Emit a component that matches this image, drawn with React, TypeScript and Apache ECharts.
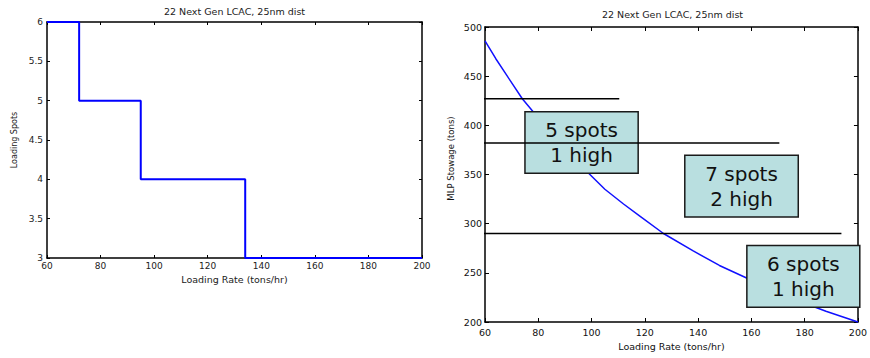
import React, { useEffect, useRef } from "react";
import * as echarts from "echarts";

// Left chart: loading spots step function
const stepRates = [60, 72, 95, 134, 200];
const stepSpots = [6, 5, 4, 3, 3];

// Right chart: MLP stowage curve
const curveRates = [60, 64, 68, 74, 78, 85, 92, 99, 105, 112, 118, 127, 138, 148, 158, 170, 180, 188, 200];
const curveStowage = [486, 468, 451.5, 427, 414, 391, 371, 351, 335, 320, 308, 290, 272.5, 257.5, 245, 230, 219, 211, 200];

// Threshold lines (right chart)
const lineLevels = [427, 382, 290];
const lineStarts = [57.5, 57.5, 57.5];
const lineEnds = [110.4, 170.5, 193.8];

// Annotation boxes (right chart)
const boxX0 = [75, 135, 158.3];
const boxX1 = [117.5, 177.6, 200.7];
const boxY0 = [413.9, 369.5, 277.7];
const boxY1 = [351.2, 306.9, 215];
const boxLines = [
  ["5 spots", "1 high"],
  ["7 spots", "2 high"],
  ["6 spots", "1 high"],
];

const titleText = "22 Next Gen LCAC, 25nm dist";
const FONT = "DejaVu Sans";

export default function App() {
  const ref = useRef<HTMLDivElement>(null);
  useEffect(() => {
    if (!ref.current) return;
    const chart = echarts.init(ref.current, null, { renderer: "svg" });

    const axisLine = { show: true, lineStyle: { color: "#000", width: 1.5 } };
    const xBase = (grid: number, tickLen: number) => ({
      type: "value",
      gridIndex: grid,
      min: 60,
      max: 200,
      interval: 20,
      axisLine,
      axisTick: { show: true, inside: true, length: tickLen, lineStyle: { color: "#000", width: 1 } },
      splitLine: { show: false },
    });

    const option: any = {
      animation: false,
      backgroundColor: "#fff",
      title: [
        {
          text: titleText,
          left: 234.5,
          top: 6,
          textAlign: "center",
          padding: 0,
          textStyle: { fontSize: 9.5, fontWeight: "normal", color: "#222", fontFamily: FONT },
        },
        {
          text: titleText,
          left: 672.5,
          top: 9,
          textAlign: "center",
          padding: 0,
          textStyle: { fontSize: 9.5, fontWeight: "normal", color: "#222", fontFamily: FONT },
        },
      ],
      grid: [
        { left: 47, top: 22, width: 375, height: 236 },
        { left: 485, top: 27, width: 375, height: 295 },
      ],
      xAxis: [
        {
          ...xBase(0, 3),
          position: "bottom",
          axisLabel: { margin: 3, fontSize: 9, color: "#222", fontFamily: FONT },
          name: "Loading Rate (tons/hr)",
          nameLocation: "middle",
          nameGap: 14,
          nameTextStyle: { fontSize: 9.5, color: "#222", fontFamily: FONT },
        },
        { ...xBase(0, 3), position: "top", axisLabel: { show: false } },
        {
          ...xBase(1, 4),
          position: "bottom",
          axisLabel: { margin: 5, fontSize: 9.5, color: "#111", fontFamily: FONT },
          name: "Loading Rate (tons/hr)",
          nameLocation: "middle",
          nameGap: 19,
          nameTextStyle: { fontSize: 9.5, color: "#111", fontFamily: FONT },
        },
        { ...xBase(1, 4), position: "top", axisLabel: { show: false } },
      ],
      yAxis: [
        {
          type: "value",
          gridIndex: 0,
          position: "left",
          min: 3,
          max: 6,
          interval: 0.5,
          axisLine,
          axisTick: { show: true, inside: true, length: 3, lineStyle: { color: "#000" } },
          splitLine: { show: false },
          axisLabel: { margin: 4, fontSize: 9, color: "#222", fontFamily: FONT },
          name: "Loading Spots",
          nameLocation: "middle",
          nameGap: 29,
          nameTextStyle: { fontSize: 8, color: "#222", fontFamily: FONT },
        },
        {
          type: "value",
          gridIndex: 0,
          position: "right",
          min: 3,
          max: 6,
          interval: 0.5,
          axisLine,
          axisTick: { show: true, inside: true, length: 3, lineStyle: { color: "#000" } },
          splitLine: { show: false },
          axisLabel: { show: false },
        },
        {
          type: "value",
          gridIndex: 1,
          position: "left",
          min: 200,
          max: 500,
          interval: 50,
          axisLine,
          axisTick: { show: true, inside: true, length: 4, lineStyle: { color: "#000" } },
          splitLine: { show: false },
          axisLabel: { margin: 3, fontSize: 9.5, color: "#111", fontFamily: FONT },
          name: "MLP Stowage (tons)",
          nameLocation: "middle",
          nameGap: 30,
          nameTextStyle: { fontSize: 8.5, color: "#111", fontFamily: FONT, padding: [0, 0, 0, 32] },
        },
        {
          type: "value",
          gridIndex: 1,
          position: "right",
          min: 200,
          max: 500,
          interval: 50,
          axisLine,
          axisTick: { show: true, inside: true, length: 4, lineStyle: { color: "#000" } },
          splitLine: { show: false },
          axisLabel: { show: false },
        },
      ],
      series: [
        {
          type: "line",
          xAxisIndex: 0,
          yAxisIndex: 0,
          data: stepRates.map((r, i) => [r, stepSpots[i]]),
          step: "end",
          symbol: "none",
          clip: false,
          lineStyle: { color: "#0000ff", width: 2 },
          z: 3,
        },
        {
          type: "line",
          xAxisIndex: 2,
          yAxisIndex: 2,
          data: curveRates.map((r, i) => [r, curveStowage[i]]),
          symbol: "none",
          clip: false,
          lineStyle: { color: "#1010ff", width: 1.5 },
          z: 2,
        },
        {
          type: "custom",
          xAxisIndex: 2,
          yAxisIndex: 2,
          clip: false,
          z: 4,
          encode: { x: [0, 2], y: [1, 3] },
          data: boxX0.map((v, i) => [v, boxY0[i], boxX1[i], boxY1[i]]),
          renderItem: (params: any, api: any) => {
            const p0 = api.coord([api.value(0), api.value(1)]);
            const p1 = api.coord([api.value(2), api.value(3)]);
            const x = p0[0];
            const y = p0[1];
            const w = p1[0] - p0[0];
            const h = p1[1] - p0[1];
            const lines = boxLines[params.dataIndex];
            return {
              type: "group",
              children: [
                {
                  type: "rect",
                  shape: { x, y, width: w, height: h },
                  style: { fill: "#b9dfe0", stroke: "#1a1a1a", lineWidth: 1.5 },
                },
                {
                  type: "text",
                  x: x + w / 2,
                  y: y + h / 2 - 12.5,
                  style: {
                    text: lines[0],
                    fontSize: 20,
                    fontFamily: FONT,
                    fill: "#111",
                    align: "center",
                    verticalAlign: "middle",
                  },
                },
                {
                  type: "text",
                  x: x + w / 2,
                  y: y + h / 2 + 12.5,
                  style: {
                    text: lines[1],
                    fontSize: 20,
                    fontFamily: FONT,
                    fill: "#111",
                    align: "center",
                    verticalAlign: "middle",
                  },
                },
              ],
            };
          },
        },
        ...lineLevels.map((lv, i) => ({
          type: "line",
          xAxisIndex: 2,
          yAxisIndex: 2,
          data: [
            [lineStarts[i], lv],
            [lineEnds[i], lv],
          ],
          symbol: "none",
          clip: false,
          lineStyle: { color: "#000", width: 1.5 },
          z: 5,
        })),
      ],
    };

    chart.setOption(option);
    return () => chart.dispose();
  }, []);

  return (
    <div
      ref={ref}
      style={{ position: "absolute", left: 0, top: 0, width: 870, height: 358, background: "#fff" }}
    />
  );
}
